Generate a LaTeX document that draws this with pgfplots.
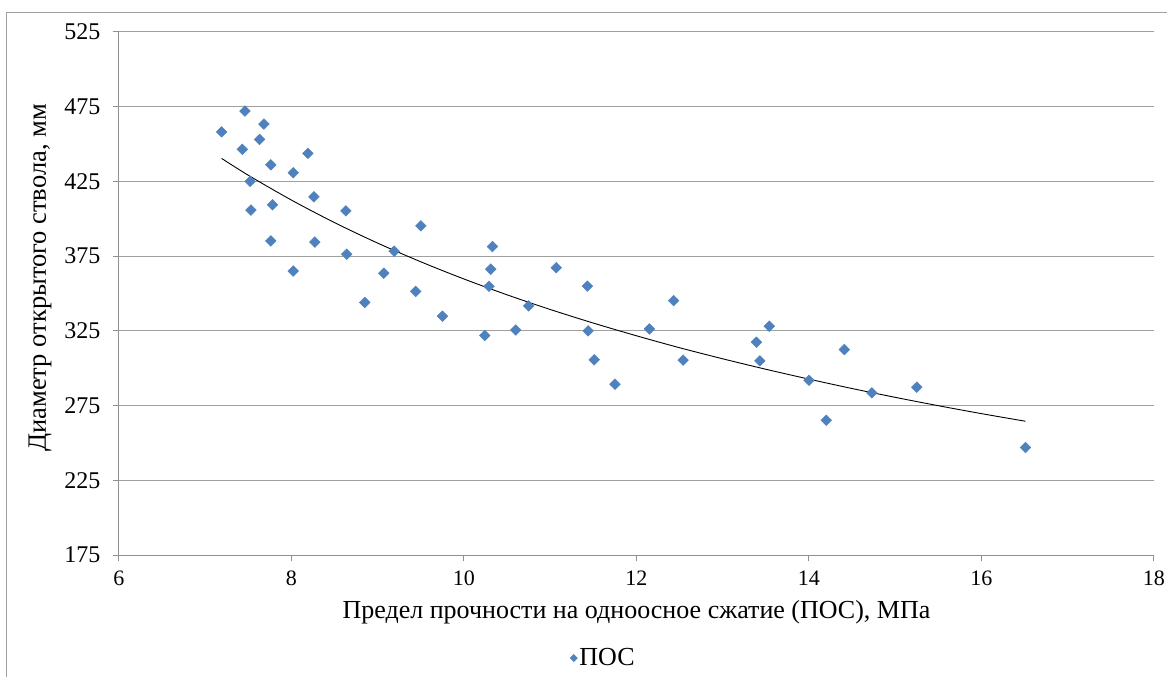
\documentclass[border=0pt]{standalone}
\usepackage{fontspec}
\setmainfont{Liberation Serif}
\usepackage{pgfplots}
\usepackage{pgfplotstable}
\pgfplotsset{compat=1.18}
\definecolor{ptblue}{HTML}{4F81BD}
\definecolor{gridgray}{HTML}{A0A0A0}
\definecolor{axgray}{HTML}{909090}
\pgfplotstableread{
x y
7.19 458.2
7.46 472.1
7.68 463.4
7.43 446.5
7.63 453.1
8.19 443.8
7.76 436.1
8.02 430.8
7.52 425.0
8.26 414.7
7.53 405.8
7.78 409.4
8.63 405.3
9.50 395.3
10.33 381.4
7.76 385.2
8.27 384.4
8.64 376.3
9.19 378.3
8.02 365.0
9.07 363.6
10.31 366.3
11.07 367.2
8.85 344.0
9.44 351.4
10.29 354.9
11.43 354.9
10.75 341.7
12.43 345.2
9.75 334.8
10.24 321.9
10.60 325.6
11.44 325.0
12.15 326.3
13.54 328.1
13.39 317.4
11.51 305.6
12.54 305.4
13.43 304.9
14.41 312.5
11.75 289.3
14.00 292.0
14.73 283.5
15.25 287.3
14.20 265.2
16.51 246.9
}\pointsdata
\pgfplotstableread{
x y
7.19 440.4
7.5 429.1
8.0 412.5
8.5 397.4
9.0 383.7
9.5 371.2
10.0 359.7
10.5 349.1
11.0 339.3
11.5 330.2
12.0 321.7
12.5 313.7
13.0 306.3
13.5 299.3
14.0 292.7
14.5 286.4
15.0 280.5
15.5 274.9
16.0 269.6
16.51 264.5
}\trenddata
\begin{document}
\begin{tikzpicture}[x=1pt,y=1pt]
\useasboundingbox (-119,-122) rectangle (1048,555);
\draw[gridgray, line width=1pt] (-112.5,-130) -- (-112.5,542.3) -- (1060,542.3);
\begin{axis}[
  at={(0,0)}, anchor=south west,
  scale only axis, width=1035pt, height=523pt,
  xmin=6, xmax=18, ymin=175, ymax=525,
  xtick={6,8,...,18}, ytick={175,225,...,525},
  axis lines*=left,
  axis line style={axgray, line width=1pt, -},
  tick style={axgray, line width=1pt},
  tick align=outside, major tick length=6pt,
  ymajorgrids, grid style={gridgray, line width=1pt},
  /pgf/number format/assume math mode=true,
  xticklabel style={font=\fontsize{22}{24}\selectfont, yshift=-6pt},
  yticklabel style={font=\fontsize{24}{28}\selectfont, xshift=-9pt},
  xlabel={Предел прочности на одноосное сжатие (ПОС), МПа},
  ylabel={Диаметр открытого ствола, мм},
  xlabel style={font=\fontsize{26}{30}\selectfont, at={(axis description cs:0.5,-0.109)}, anchor=center},
  ylabel style={font=\fontsize{26.5}{30}\selectfont, at={(axis description cs:-0.0763,0.53)}, anchor=center},
  legend style={at={(axis description cs:0.468,-0.197)}, anchor=center, draw=none, font=\fontsize{26}{30}\selectfont},
  legend image post style={mark size=2.6pt},
]
\addplot[black, line width=0.9pt, smooth, forget plot] table {\trenddata};
\addplot[only marks, mark=square*, mark size=3.8pt,
  mark options={rotate=45, fill=ptblue, draw=ptblue}] table {\pointsdata};
\addlegendentry{ПОС}
\end{axis}
\end{tikzpicture}
\end{document}
